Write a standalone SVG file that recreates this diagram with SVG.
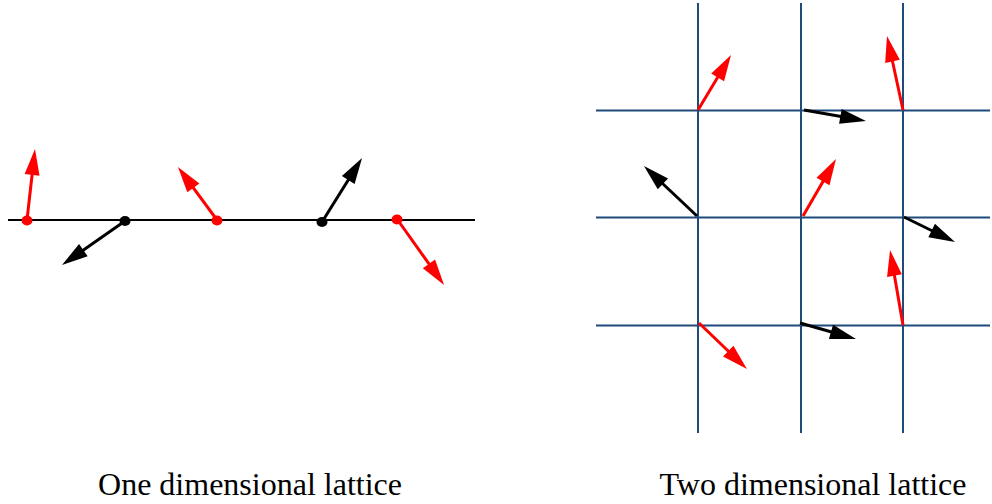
<svg xmlns="http://www.w3.org/2000/svg" width="992" height="504" viewBox="0 0 992 504">
<style>
.grid{stroke:#1f4a7c;stroke-width:2;fill:none}
.base{stroke:#000;stroke-width:2;fill:none}
.ar{stroke:#f00;stroke-width:3;fill:none;marker-end:url(#hr)}
.ab{stroke:#000;stroke-width:3;fill:none;marker-end:url(#hb)}
.lbl{font-family:"Liberation Serif","Times New Roman",serif;font-size:32px;fill:#000;text-anchor:middle}
</style>
<defs>
<marker id="hr" markerUnits="userSpaceOnUse" markerWidth="26" markerHeight="15" refX="18" refY="7.5" orient="auto" overflow="visible"><path d="M0,0 L26,7.5 L0,15 z" fill="#f00"/></marker>
<marker id="hb" markerUnits="userSpaceOnUse" markerWidth="26" markerHeight="15" refX="18" refY="7.5" orient="auto" overflow="visible"><path d="M0,0 L26,7.5 L0,15 z" fill="#000"/></marker>
</defs>
<rect width="992" height="504" fill="#fff"/>
<g id="one-d-lattice">
<line class="base" x1="8" y1="220" x2="475" y2="220"/>
<g id="connectors-1d">
<line class="ar" x1="27" y1="220" x2="34.1" y2="157"/>
<line class="ab" x1="125" y1="221" x2="68.6" y2="260.4"/>
<line class="ar" x1="217" y1="220" x2="182.7" y2="173.4"/>
<line class="ab" x1="322" y1="222" x2="357.8" y2="164.8"/>
<line class="ar" x1="397" y1="219" x2="439.4" y2="278.5"/>
</g>
<g id="site1"><ellipse cx="27" cy="220.5" rx="5.5" ry="5" fill="#f00"/></g>
<g id="site2"><ellipse cx="125" cy="221" rx="5.5" ry="5" fill="#000"/></g>
<g id="site3"><ellipse cx="217" cy="220.5" rx="5.5" ry="5" fill="#f00"/></g>
<g id="site4"><ellipse cx="322" cy="222" rx="5.5" ry="5" fill="#000"/></g>
<g id="site5"><ellipse cx="397" cy="219.5" rx="5.5" ry="5" fill="#f00"/></g>
<text class="lbl" x="250" y="495">One dimensional lattice</text>
</g>
<g id="two-d-lattice">
<g id="grid">
<line class="grid" x1="698" y1="3" x2="698" y2="433"/>
<line class="grid" x1="801" y1="3" x2="801" y2="433"/>
<line class="grid" x1="903" y1="3" x2="903" y2="433"/>
<line class="grid" x1="596" y1="110.5" x2="990" y2="110.5"/>
<line class="grid" x1="596" y1="217.5" x2="990" y2="217.5"/>
<line class="grid" x1="596" y1="325.5" x2="990" y2="325.5"/>
</g>
<g id="connectors-2d">
<line class="ar" x1="698" y1="110" x2="726.9" y2="61.9"/>
<line class="ab" x1="804" y1="110" x2="858.1" y2="119.6"/>
<line class="ar" x1="903" y1="110" x2="888.7" y2="43.8"/>
<line class="ab" x1="697" y1="216" x2="649.8" y2="171.5"/>
<line class="ar" x1="803" y1="216" x2="832" y2="165.9"/>
<line class="ab" x1="904" y1="217" x2="947.8" y2="238.5"/>
<line class="ar" x1="903" y1="325" x2="891.4" y2="257.9"/>
<line class="ab" x1="800" y1="323" x2="848.3" y2="336.8"/>
<line class="ar" x1="699" y1="323" x2="741.2" y2="363.5"/>
</g>
<text class="lbl" x="813" y="495">Two dimensional lattice</text>
</g>
</svg>
